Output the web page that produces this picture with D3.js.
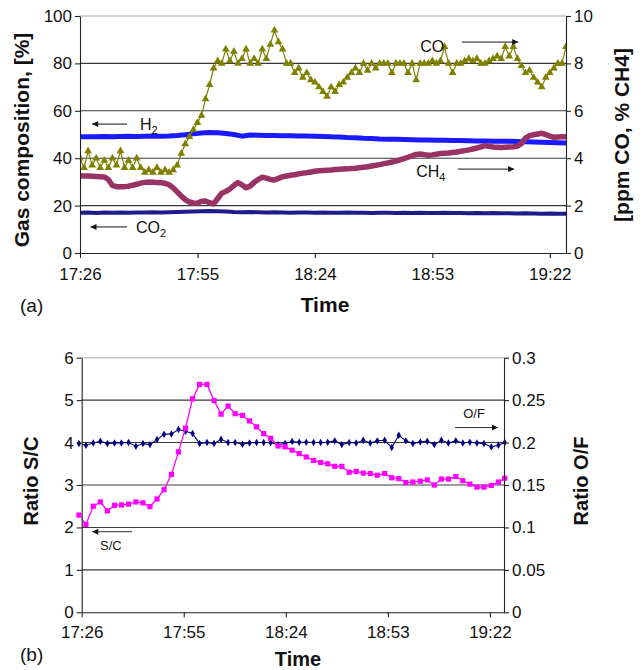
<!DOCTYPE html>
<html><head><meta charset="utf-8">
<script src="https://cdn.jsdelivr.net/npm/d3@7"></script>
<style>
body{margin:0;background:#fff;}
svg text{font-family:"Liberation Sans",Arial,Helvetica,sans-serif;fill:#111;}
</style></head><body>
<svg id="c" width="642" height="670"></svg>
<script>
// ---------- data ----------
const xTickValues = [0, 29, 58, 87, 116];
const xTickLabels = ["17:26", "17:55", "18:24", "18:53", "19:22"];
const gasTicks = [0, 20, 40, 60, 80, 100];
const ppmTicks = [0, 2, 4, 6, 8, 10];
const scTicks = [0, 1, 2, 3, 4, 5, 6];
const ofTicks = [0, 0.05, 0.1, 0.15, 0.2, 0.25, 0.3];

// minutes after 17:26
const minutes = [0,1,2,3,4,5,6,7,8,9,10,11,12,13,14,15,16,17,18,19,20,21,22,23,24,25,26,27,28,29,30,31,32,33,34,35,36,37,38,39,40,41,42,43,44,45,46,47,48,49,50,51,52,53,54,55,56,57,58,59,60,61,62,63,64,65,66,67,68,69,70,71,72,73,74,75,76,77,78,79,80,81,82,83,84,85,86,87,88,89,90,91,92,93,94,95,96,97,98,99,100,101,102,103,104,105,106,107,108,109,110,111,112,113,114,115,116,117,118,119,120];
const minutes2 = [0,2,4,6,8,10,12,14,16,18,20,22,24,26,28,30,32,34,36,38,40,42,44,46,48,50,52,54,56,58,60,62,64,66,68,70,72,74,76,78,80,82,84,86,88,90,92,94,96,98,100,102,104,106,108,110,112,114,116,118,120];

// H2 [%] (left axis), every 2 min
const h2 = [49.0,49.1,49.0,49.2,49.1,49.2,49.3,49.2,49.3,49.4,49.3,49.4,49.6,49.9,50.3,50.6,50.8,50.7,50.4,50.0,49.3,49.8,49.7,49.6,49.6,49.5,49.5,49.4,49.4,49.3,49.2,49.0,48.9,48.7,48.6,48.4,48.3,48.1,48.0,48.0,47.9,47.8,47.7,47.7,47.6,47.6,47.5,47.5,47.4,47.3,47.3,47.2,47.1,47.1,47.0,46.9,46.8,46.7,46.6,46.5,46.4];
// CO2 [%] (left axis), every 2 min
const co2 = [17.0,17.1,16.9,17.1,17.0,17.1,17.0,17.1,17.1,17.2,17.1,17.2,17.3,17.4,17.5,17.6,17.7,17.6,17.5,17.3,17.2,17.3,17.2,17.1,17.2,17.1,17.0,17.1,17.1,17.0,17.1,17.0,17.0,17.1,17.0,17.0,16.9,17.0,17.0,16.9,17.0,16.9,17.0,16.9,16.9,17.0,16.9,16.9,16.8,16.9,16.8,16.9,16.8,16.8,16.7,16.8,16.7,16.6,16.7,16.6,16.6];
// CH4 [%] (right axis), every minute
const ch4 = [3.26,3.25,3.25,3.24,3.23,3.22,3.21,3.1,2.85,2.8,2.8,2.8,2.82,2.86,2.9,2.95,2.98,3.0,2.99,2.97,2.96,2.94,2.88,2.75,2.58,2.4,2.25,2.15,2.11,2.1,2.18,2.19,2.12,2.07,2.3,2.52,2.6,2.7,2.85,2.97,2.87,2.75,2.82,2.98,3.1,3.2,3.16,3.1,3.08,3.15,3.22,3.25,3.28,3.3,3.34,3.37,3.39,3.42,3.45,3.47,3.48,3.49,3.5,3.52,3.53,3.54,3.55,3.57,3.58,3.6,3.62,3.64,3.67,3.7,3.73,3.77,3.8,3.84,3.88,3.93,3.98,4.04,4.1,4.16,4.18,4.15,4.12,4.14,4.17,4.2,4.21,4.22,4.24,4.26,4.29,4.32,4.35,4.39,4.43,4.48,4.53,4.5,4.47,4.46,4.45,4.46,4.47,4.48,4.5,4.62,4.85,4.95,4.99,5.02,5.05,5.0,4.93,4.88,4.89,4.9,4.9];
// CO [ppm] (right axis), every minute
const co = [4.0,3.6,4.3,3.7,4.0,3.6,3.9,3.6,4.0,3.7,4.3,3.6,3.9,3.6,4.0,3.6,3.4,3.5,3.4,3.6,3.4,3.5,3.4,3.5,3.7,4.2,4.6,4.9,5.2,5.5,5.8,6.5,7.1,7.8,8.1,8.0,8.6,8.1,8.5,8.0,8.2,8.6,8.0,8.2,8.0,8.6,8.2,8.8,9.4,8.9,8.6,8.0,8.0,7.6,7.8,7.4,7.6,7.3,7.2,7.0,6.8,6.6,7.0,6.8,7.1,7.2,7.4,7.6,7.8,7.6,8.0,7.7,8.0,7.8,8.0,8.0,8.0,7.6,8.0,8.0,8.0,7.6,8.0,7.3,8.0,8.0,8.0,8.1,8.0,8.1,8.7,8.0,7.6,8.0,8.0,8.1,8.2,8.1,8.2,8.0,8.0,8.1,8.2,8.3,8.2,8.7,8.3,8.7,8.2,7.9,7.6,7.7,7.4,7.2,7.0,7.4,7.6,7.8,8.0,8.0,8.7];

// panel (b)
const ratioTimes = [-0.8,1.2,3.3,5.3,7.3,9.3,11.3,13.3,15.4,17.4,19.4,21.4,23.4,25.5,27.5,29.5,31.5,33.5,35.6,37.6,39.6,41.6,43.6,45.7,47.7,49.7,51.7,53.7,55.8,57.8,59.8,61.8,63.8,65.9,67.9,69.9,71.9,73.9,76.0,78.0,80.0,82.0,84.0,86.1,88.1,90.1,92.1,94.1,96.2,98.2,100.2,102.2,104.2,106.3,108.3,110.3,112.3,114.3,116.4,118.4,120.2];
const sc = [2.29,2.07,2.5,2.6,2.39,2.52,2.53,2.55,2.6,2.58,2.49,2.67,2.89,3.25,3.78,4.34,5.03,5.37,5.37,4.99,4.67,4.86,4.68,4.64,4.51,4.37,4.21,4.1,3.92,3.9,3.82,3.74,3.66,3.58,3.53,3.5,3.44,3.44,3.3,3.32,3.28,3.27,3.23,3.27,3.17,3.15,3.06,3.07,3.09,3.12,3.0,3.14,3.14,3.2,3.1,3.02,2.95,2.95,2.99,3.07,3.16];
const of = [0.1988,0.1969,0.1996,0.2016,0.1988,0.1996,0.1996,0.2,0.1957,0.1988,0.1976,0.2035,0.2098,0.2102,0.2153,0.2133,0.2106,0.1988,0.2,0.1988,0.2039,0.2,0.2,0.198,0.1996,0.2,0.2,0.2,0.1976,0.1988,0.2012,0.2004,0.2004,0.2,0.2,0.2004,0.202,0.1976,0.2,0.1996,0.2027,0.1996,0.202,0.2027,0.1941,0.2086,0.202,0.1988,0.2008,0.2016,0.1976,0.2027,0.1996,0.202,0.1996,0.2004,0.1996,0.1988,0.1949,0.1969,0.2];

// ---------- drawing ----------
const svg = d3.select("#c");
const defs = svg.append("defs");
defs.append("marker").attr("id","ah").attr("viewBox","0 0 10 10")
  .attr("refX",10).attr("refY",5).attr("markerWidth",7).attr("markerHeight",6)
  .attr("orient","auto").attr("markerUnits","userSpaceOnUse")
  .append("path").attr("d","M0,0L10,5L0,10z").attr("fill","#111");

const GRID = "#3a3a3a";
const fmtOF = d => String(+d.toFixed(2));
const fmtInt = d => String(d);

function panel(cfg){
  const g = svg.append("g");
  const x = d3.scaleLinear([0,120],[cfg.left,cfg.right]);
  const yL = d3.scaleLinear(cfg.yLdom,[cfg.bottom,cfg.top]);
  const yR = d3.scaleLinear(cfg.yRdom,[cfg.bottom,cfg.top]);
  const cid = "clip"+cfg.id;
  defs.append("clipPath").attr("id",cid).append("rect")
    .attr("x",cfg.left).attr("y",cfg.top-10).attr("width",cfg.right-cfg.left).attr("height",cfg.bottom-cfg.top+10);
  g.append("g").selectAll("line").data(cfg.yLticks.slice(1,-1)).join("line")
    .attr("x1",cfg.left).attr("x2",cfg.right).attr("y1",d=>yL(d)).attr("y2",d=>yL(d))
    .attr("stroke",GRID).attr("stroke-width",1.1);
  g.append("line").attr("x1",cfg.left).attr("x2",cfg.right)
    .attr("y1",yL(cfg.yLticks[cfg.yLticks.length-1])).attr("y2",yL(cfg.yLticks[cfg.yLticks.length-1]))
    .attr("stroke","#a8a8a8").attr("stroke-width",1.1);
  const series = g.append("g");
  const axL = d3.axisLeft(yL).tickValues(cfg.yLticks).tickFormat(fmtInt).tickSize(5).tickSizeOuter(0).tickPadding(3);
  const axR = d3.axisRight(yR).tickValues(cfg.yRticks).tickFormat(cfg.yRfmt || fmtInt).tickSize(5).tickSizeOuter(0).tickPadding(3);
  const axB = d3.axisBottom(x).tickValues(xTickValues).tickFormat((d,i)=>xTickLabels[i])
    .tickSize(5).tickSizeOuter(0).tickPadding(cfg.xPad);
  const styleAx = s => { s.selectAll("path,line").attr("stroke","#222").attr("stroke-width",1.1);
    s.selectAll("text").attr("font-size",17).attr("fill","#111")
     .attr("font-family","'Liberation Sans',Arial,sans-serif"); };
  g.append("g").attr("transform",`translate(0,${cfg.bottom})`).call(axB).call(styleAx);
  g.append("g").attr("transform",`translate(${cfg.left},0)`).call(axL).call(styleAx);
  g.append("g").attr("transform",`translate(${cfg.right},0)`).call(axR).call(styleAx);
  return {g, series, x, yL, yR, cid};
}

// ---- panel (a) ----
const A = panel({id:"a", left:80, right:566, top:16, bottom:253, yLdom:[0,100], yRdom:[0,10],
  yLticks:gasTicks, yRticks:ppmTicks, xPad:10});
{
  const {series, x, yL, yR, cid} = A;
  const s = series.append("g").attr("clip-path",`url(#${cid})`);
  const lineL = (t) => d3.line().x((d,i)=>x(t[i])).y(d=>yL(d));
  const lineR = (t) => d3.line().x((d,i)=>x(t[i])).y(d=>yR(d));
  s.append("path").datum(h2).attr("d",lineL(minutes2)).attr("fill","none")
    .attr("stroke","#1a1aff").attr("stroke-width",5).attr("stroke-linejoin","round");
  s.append("path").datum(co2).attr("d",lineL(minutes2)).attr("fill","none")
    .attr("stroke","#1c1c8a").attr("stroke-width",4).attr("stroke-linejoin","round");
  s.append("path").datum(ch4).attr("d",lineR(minutes)).attr("fill","none")
    .attr("stroke","#993366").attr("stroke-width",5.5).attr("stroke-linejoin","round").attr("stroke-linecap","round");
  s.append("path").datum(co).attr("d",lineR(minutes)).attr("fill","none")
    .attr("stroke","#808000").attr("stroke-width",1.2);
  s.append("g").selectAll("path").data(co).join("path")
    .attr("d",d3.symbol(d3.symbolTriangle,26))
    .attr("transform",(d,i)=>`translate(${x(minutes[i])},${yR(d)})`)
    .attr("fill","#808000");

  const ann = A.g.append("g");
  ann.append("line").attr("x1",x(11.6)).attr("x2",x(3.0)).attr("y1",yL(54.4)).attr("y2",yL(54.4))
    .attr("stroke","#111").attr("stroke-width",1).attr("marker-end","url(#ah)");
  const tH = ann.append("text").attr("x",x(14.8)).attr("y",yL(51.9)).attr("font-size",16);
  tH.append("tspan").text("H"); tH.append("tspan").attr("dy",4).attr("font-size",11).text("2");
  ann.append("line").attr("x1",x(11.6)).attr("x2",x(2.6)).attr("y1",yL(11.0)).attr("y2",yL(11.0))
    .attr("stroke","#111").attr("stroke-width",1).attr("marker-end","url(#ah)");
  const tC = ann.append("text").attr("x",x(13.8)).attr("y",yL(8.4)).attr("font-size",16);
  tC.append("tspan").text("CO"); tC.append("tspan").attr("dy",4).attr("font-size",11).text("2");
  ann.append("line").attr("x1",x(94.3)).attr("x2",x(108.2)).attr("y1",yR(8.9)).attr("y2",yR(8.9))
    .attr("stroke","#111").attr("stroke-width",1).attr("marker-end","url(#ah)");
  ann.append("text").attr("x",x(84.0)).attr("y",yR(8.5)).attr("font-size",16).text("CO");
  ann.append("line").attr("x1",x(93.3)).attr("x2",x(107.2)).attr("y1",yR(3.54)).attr("y2",yR(3.54))
    .attr("stroke","#111").attr("stroke-width",1).attr("marker-end","url(#ah)");
  const tM = ann.append("text").attr("x",x(83.0)).attr("y",yR(3.22)).attr("font-size",16);
  tM.append("tspan").text("CH"); tM.append("tspan").attr("dy",4).attr("font-size",11).text("4");
}

// ---- panel (b) ----
const B = panel({id:"b", left:81.7, right:504, top:357.7, bottom:612.3, yLdom:[0,6], yRdom:[0,0.3],
  yLticks:scTicks, yRticks:ofTicks, yRfmt:fmtOF, xPad:9});
{
  const {series, x, yL, yR, cid} = B;
  const s = series.append("g");
  s.append("path").datum(of).attr("clip-path",`url(#${cid})`)
    .attr("d",d3.line().x((d,i)=>x(ratioTimes[i])).y(d=>yR(d)))
    .attr("fill","none").attr("stroke","#000080").attr("stroke-width",1.1);
  s.append("g").selectAll("path").data(of).join("path")
    .attr("d",d3.symbol(d3.symbolDiamond,16))
    .attr("transform",(d,i)=>`translate(${x(ratioTimes[i])},${yR(d)})`)
    .attr("fill","#000080");
  s.append("path").datum(sc).attr("clip-path",`url(#${cid})`)
    .attr("d",d3.line().x((d,i)=>x(ratioTimes[i])).y(d=>yL(d)))
    .attr("fill","none").attr("stroke","#ff00ff").attr("stroke-width",1.3);
  s.append("g").selectAll("rect").data(sc).join("rect")
    .attr("x",(d,i)=>x(ratioTimes[i])-2.6).attr("y",d=>yL(d)-2.6)
    .attr("width",5.2).attr("height",5.2).attr("fill","#ff00ff");

  const ann = B.g.append("g");
  ann.append("line").attr("x1",x(14.3)).attr("x2",x(3.0)).attr("y1",yL(1.9)).attr("y2",yL(1.9))
    .attr("stroke","#333").attr("stroke-width",1).attr("marker-end","url(#ah)");
  ann.append("text").attr("x",x(5.2)).attr("y",yL(1.47)).attr("font-size",13).text("S/C");
  ann.append("line").attr("x1",x(106.1)).attr("x2",x(118.3)).attr("y1",yR(0.2177)).attr("y2",yR(0.2177))
    .attr("stroke","#333").attr("stroke-width",1).attr("marker-end","url(#ah)");
  ann.append("text").attr("x",x(108.4)).attr("y",yR(0.229)).attr("font-size",13).text("O/F");
}

// ---- titles ----
const T = svg.append("g").attr("font-weight","bold");
T.append("text").attr("transform","translate(29,140) rotate(-90)").attr("text-anchor","middle")
  .attr("font-size",21).attr("font-weight","bold").text("Gas composition, [%]");
T.append("text").attr("transform","translate(629,135) rotate(-90)").attr("text-anchor","middle")
  .attr("font-size",21).attr("font-weight","bold").text("[ppm CO, % CH4]");
T.append("text").attr("x",325).attr("y",312).attr("text-anchor","middle")
  .attr("font-size",21).attr("font-weight","bold").text("Time");
T.append("text").attr("transform","translate(38,481) rotate(-90)").attr("text-anchor","middle")
  .attr("font-size",20).attr("font-weight","bold").text("Ratio S/C");
T.append("text").attr("transform","translate(588,481) rotate(-90)").attr("text-anchor","middle")
  .attr("font-size",20).attr("font-weight","bold").text("Ratio O/F");
T.append("text").attr("x",298).attr("y",666).attr("text-anchor","middle")
  .attr("font-size",20).attr("font-weight","bold").text("Time");
svg.append("text").attr("x",20).attr("y",312).attr("font-size",19).text("(a)");
svg.append("text").attr("x",20).attr("y",661).attr("font-size",19).text("(b)");
</script>
</body></html>
